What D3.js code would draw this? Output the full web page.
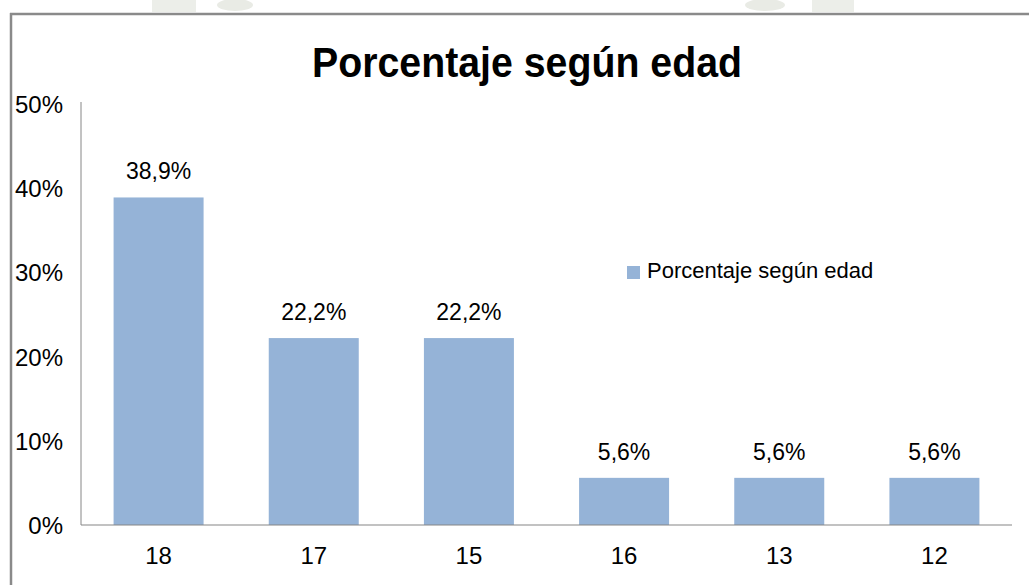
<!DOCTYPE html>
<html>
<head>
<meta charset="utf-8">
<script src="https://cdn.jsdelivr.net/npm/d3@7"></script>
<style>
  html, body { margin: 0; padding: 0; background: #fff; overflow: hidden; width: 1029px; height: 585px; }
  svg { display: block; overflow: hidden; }
  text { font-family: "Liberation Sans", Arial, sans-serif; }
</style>
</head>
<body>
<script>
const categories = ["18", "17", "15", "16", "13", "12"];
const values = [38.9, 22.2, 22.2, 5.6, 5.6, 5.6];
const valueLabels = ["38,9%", "22,2%", "22,2%", "5,6%", "5,6%", "5,6%"];
const yTicks = [0, 10, 20, 30, 40, 50];
const yTickLabels = ["0%", "10%", "20%", "30%", "40%", "50%"];
const title = "Porcentaje según edad";
const seriesName = "Porcentaje según edad";

const W = 1029, H = 585;
const svg = d3.select("body").append("svg").attr("width", W).attr("height", H);

// faint watermark remnants above frame
const wm = svg.append("g").attr("fill", "#eceee9");
wm.append("rect").attr("x", 152).attr("y", 0).attr("width", 44).attr("height", 12);
wm.append("ellipse").attr("cx", 235).attr("cy", 5).attr("rx", 18).attr("ry", 6).attr("fill", "#e9ebe5");
wm.append("ellipse").attr("cx", 765).attr("cy", 5).attr("rx", 20).attr("ry", 6).attr("fill", "#e9ebe5");
wm.append("rect").attr("x", 812).attr("y", 0).attr("width", 42).attr("height", 12);

// frame (left and top edges only; right/bottom lie outside the picture)
svg.append("line").attr("x1", 11).attr("y1", 13).attr("x2", 11).attr("y2", H)
  .attr("stroke", "#8a8a8a").attr("stroke-width", 2.5);
svg.append("line").attr("x1", 10).attr("y1", 14).attr("x2", W).attr("y2", 14)
  .attr("stroke", "#8a8a8a").attr("stroke-width", 2.5);

const x0 = 81, x1 = 1012, yBottom = 525, yTop = 104;
const x = d3.scaleBand().domain(categories).range([x0, x1]).paddingInner(0.42).paddingOuter(0.21);
const y = d3.scaleLinear().domain([0, 50]).range([yBottom, yTop]);

// bars
svg.append("g").selectAll("rect").data(values).join("rect")
  .attr("x", (d, i) => x(categories[i]))
  .attr("y", d => y(d))
  .attr("width", x.bandwidth())
  .attr("height", d => yBottom - y(d))
  .attr("fill", "#95b3d7");

// y axis
const yAxis = d3.axisLeft(y).tickValues(yTicks).tickSize(0).tickPadding(18)
  .tickFormat((d, i) => yTickLabels[i]);
const gy = svg.append("g").attr("transform", `translate(${x0},0)`).call(yAxis);
gy.select(".domain").attr("d", `M0,${yTop - 2}V${yBottom}`).attr("stroke", "#868686").attr("stroke-width", 1);
gy.selectAll("text").attr("font-size", 24).attr("fill", "#000")
  .attr("font-family", "'Liberation Sans', Arial, sans-serif").attr("dy", "0.35em");

// x axis
const xAxis = d3.axisBottom(x).tickSize(0).tickPadding(22);
const gx = svg.append("g").attr("transform", `translate(0,${yBottom})`).call(xAxis);
gx.select(".domain").attr("d", `M${x0},0H${x1}`).attr("stroke", "#868686").attr("stroke-width", 1.2);
gx.selectAll("text").attr("font-size", 24).attr("fill", "#000")
  .attr("font-family", "'Liberation Sans', Arial, sans-serif");

// value labels
svg.append("g").selectAll("text").data(values).join("text")
  .attr("x", (d, i) => x(categories[i]) + x.bandwidth() / 2)
  .attr("y", d => y(d) - 18)
  .attr("text-anchor", "middle")
  .attr("font-size", 23)
  .attr("fill", "#000")
  .text((d, i) => valueLabels[i]);

// title
svg.append("text")
  .attr("x", 527).attr("y", 77)
  .attr("text-anchor", "middle")
  .attr("font-size", 43).attr("font-weight", "bold").attr("fill", "#000")
  .attr("textLength", 430).attr("lengthAdjust", "spacingAndGlyphs")
  .text(title);

// legend
svg.append("rect").attr("x", 627).attr("y", 266).attr("width", 13).attr("height", 13).attr("fill", "#95b3d7");
svg.append("text").attr("x", 647).attr("y", 278)
  .attr("font-size", 22).attr("fill", "#000")
  .text(seriesName);
</script>
</body>
</html>
